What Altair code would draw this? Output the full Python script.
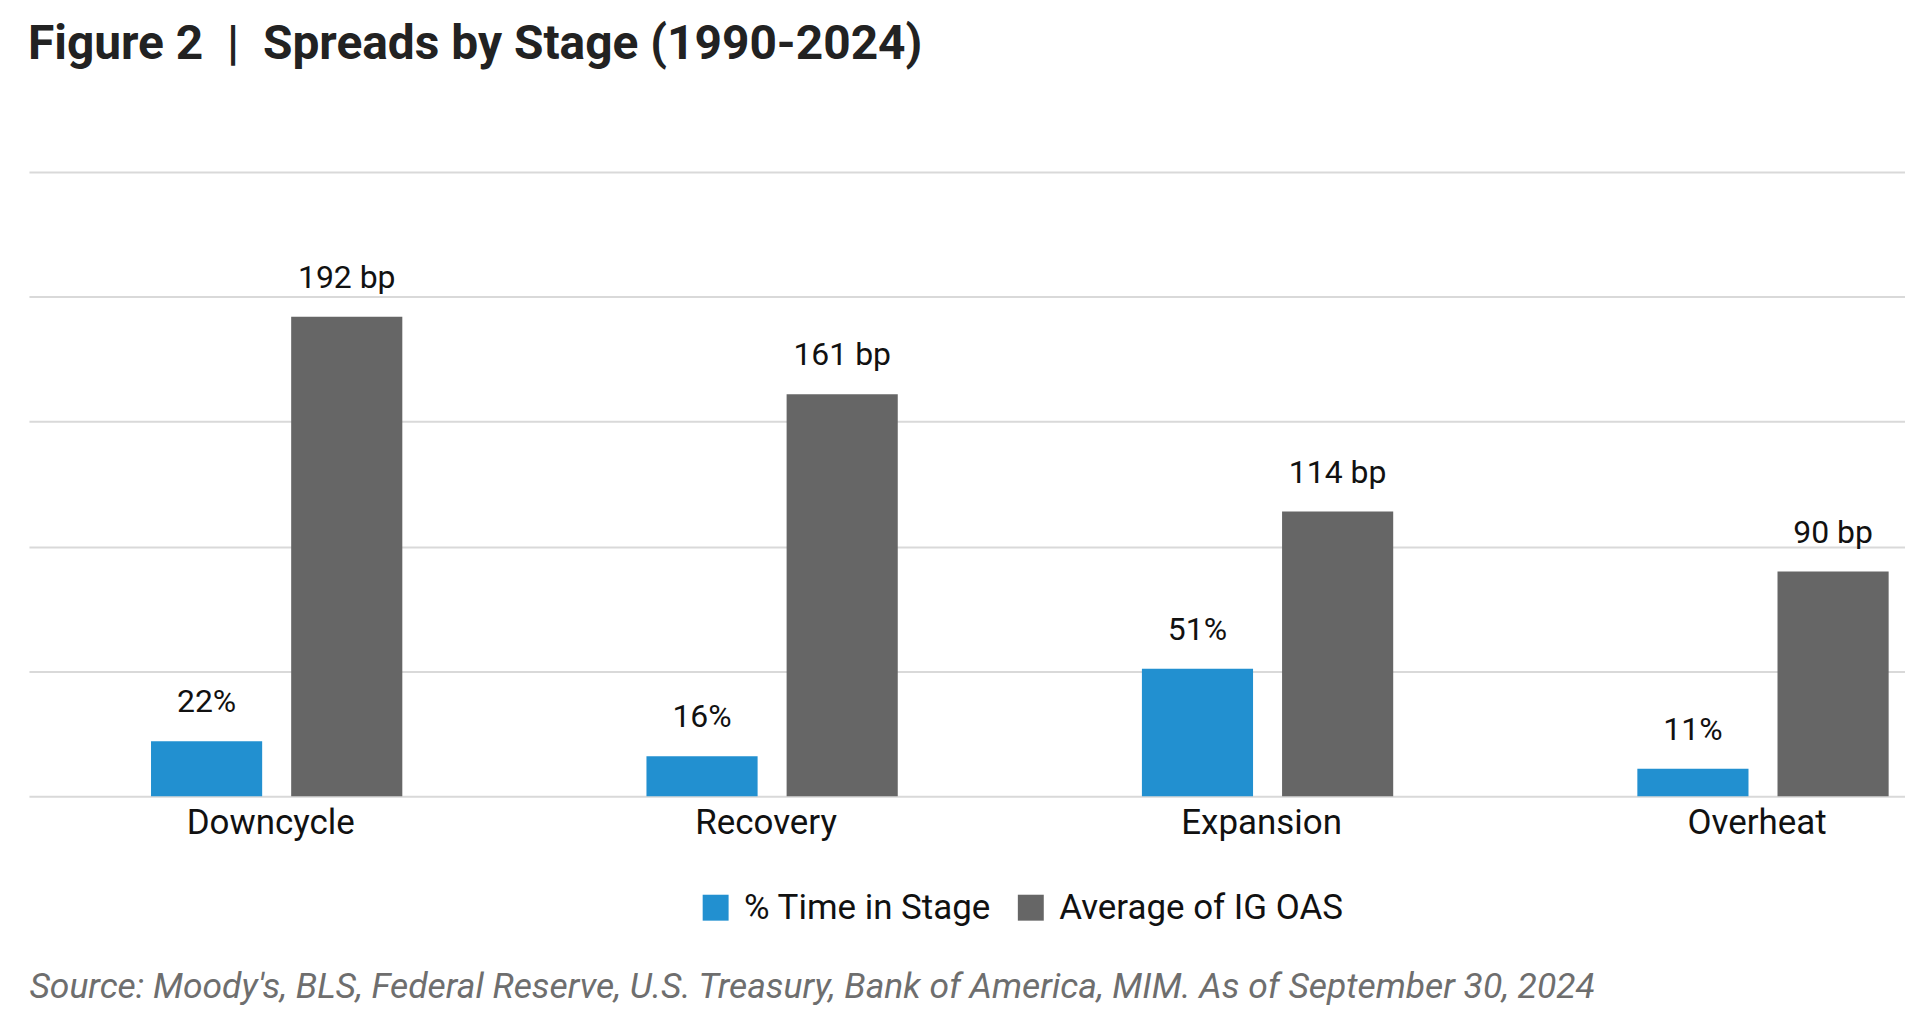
import altair as alt
import pandas as pd

stages = ["Downcycle", "Recovery", "Expansion", "Overheat"]
series_names = ["% Time in Stage", "Average of IG OAS"]
pct_time = [22, 16, 51, 11]
ig_oas = [192, 161, 114, 90]
colors = ["#2290D0", "#666666"]
y_ticks = [0, 50, 100, 150, 200, 250]
title_text = "Figure 2\u00a0 |\u00a0 Spreads by Stage (1990-2024)"
source_text = "Source: Moody's, BLS, Federal Reserve, U.S. Treasury, Bank of America, MIM. As of September 30, 2024"

rows = []
for i, s in enumerate(stages):
    rows.append({"stage": s, "series": series_names[0], "value": pct_time[i], "label": f"{pct_time[i]}%"})
    rows.append({"stage": s, "series": series_names[1], "value": ig_oas[i], "label": f"{ig_oas[i]} bp"})
df = pd.DataFrame(rows)

x = alt.X(
    "stage:N",
    sort=stages,
    scale=alt.Scale(range=[-3, 1984], paddingInner=0, paddingOuter=0),
    axis=alt.Axis(
        title=source_text,
        labelAngle=0,
        labelFontSize=35,
        labelColor="#111111",
        labelPadding=9,
        labelOffset=-6,
        ticks=False,
        tickSize=0,
        domain=False,
        grid=False,
        titleFont="Roboto",
        titleFontStyle="italic",
        titleFontWeight="normal",
        titleFontSize=35.5,
        titleColor="#6e6e6e",
        titleX=-3,
        titleY=202,
        titleAlign="left",
        titleBaseline="alphabetic",
        titleAnchor="start",
    ),
)
xo = alt.XOffset("series:N", sort=series_names,
                 scale=alt.Scale(paddingInner=0.207, paddingOuter=0.871))
y = alt.Y(
    "value:Q",
    scale=alt.Scale(domain=[0, 250], nice=False),
    axis=alt.Axis(values=y_ticks, labels=False, ticks=False, domain=False, title=None,
                  grid=True, gridColor="#d9d9d9", gridWidth=2),
)
color = alt.Color(
    "series:N",
    sort=series_names,
    scale=alt.Scale(domain=series_names, range=colors),
    legend=alt.Legend(
        title=None,
        orient="none",
        legendX=668,
        legendY=720,
        direction="horizontal",
        symbolType="square",
        symbolSize=676,
        symbolStrokeWidth=0,
        symbolOpacity=1,
        labelFontSize=35,
        labelColor="#111111",
        labelOffset=11,
        columnPadding=22,
        labelLimit=600,
    ),
)

bars = alt.Chart().mark_bar().encode(x=x, xOffset=xo, y=y, color=color)
labels = alt.Chart().mark_text(
    dy=-29, baseline="alphabetic", align="center", fontSize=32, color="#111111"
).encode(x=x, xOffset=xo, y=y, text="label:N")

chart = (
    alt.layer(bars, labels, data=df)
    .properties(
        width=1878,
        height=626,
        title=alt.TitleParams(
            text=title_text,
            anchor="start",
            frame="group",
            fontSize=48,
            fontWeight="bold",
            color="#222222",
            offset=65,
            dx=-4,
            baseline="alphabetic",
        ),
        padding={"left": 24, "top": 163, "right": 0, "bottom": 210},
        autosize=alt.AutoSizeParams(type="none"),
    )
    .configure(font="Roboto")
    .configure_view(strokeWidth=0, stroke="transparent")
    .configure_axisY(domain=False)
)

chart.save("out.html", embed_options={"renderer": "svg", "actions": False})
